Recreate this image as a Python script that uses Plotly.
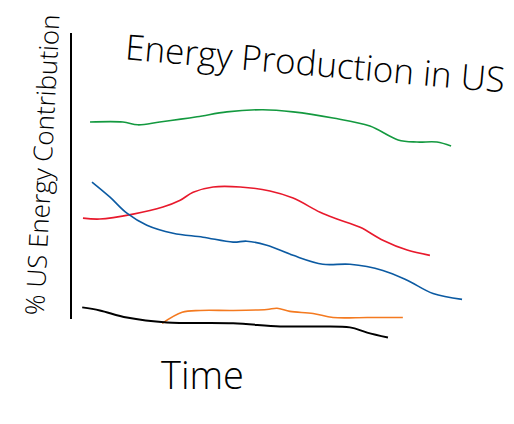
import plotly.graph_objects as go

# values (time 0-100, share 0-100)
green_t = [4.6, 13.0, 16.8, 22.4, 31.9, 39.5, 48.7, 56.4, 66.6, 76.0, 83.2, 88.0, 93.1, 96.7]
green_v = [65.1, 65.1, 64.2, 65.1, 66.8, 68.4, 69.1, 68.4, 66.4, 63.8, 59.3, 58.6, 58.6, 57.3]

red_t = [2.8, 7.1, 15.6, 23.2, 27.6, 30.9, 36.0, 42.9, 50.5, 56.4, 63.3, 67.6, 73.5, 79.3, 85.5, 91.3]
red_v = [33.9, 33.6, 35.2, 37.5, 39.7, 42.3, 44.0, 44.0, 42.7, 40.4, 35.8, 33.6, 30.9, 26.7, 23.5, 21.8]

blue_t = [5.1, 9.7, 14.0, 19.1, 25.8, 33.4, 41.1, 44.6, 49.7, 56.4, 64.0, 70.9, 79.3, 85.5, 92.1, 99.5]
blue_v = [45.6, 40.7, 35.5, 31.6, 29.0, 27.7, 26.1, 26.4, 25.1, 21.8, 18.9, 18.9, 16.9, 13.7, 9.4, 7.5]

orange_t = [23.0, 28.1, 32.7, 41.1, 49.7, 52.3, 55.6, 61.5, 66.6, 75.3, 84.4]
orange_v = [-0.3, 3.3, 3.9, 3.9, 4.2, 4.6, 3.6, 2.9, 1.6, 1.6, 1.6]

# the hand-drawn time axis
axis_t = [2.6, 7.1, 14.0, 24.2, 41.1, 53.1, 62.5, 70.9, 75.3, 80.6]
axis_v = [4.9, 3.9, 1.6, 0.0, -0.3, -1.3, -1.3, -1.6, -3.3, -4.9]

series = [
    ("green", green_t, green_v, "#13993f"),
    ("red", red_t, red_v, "#e8192c"),
    ("blue", blue_t, blue_v, "#0b5aa2"),
    ("orange", orange_t, orange_v, "#f47a20"),
    ("axis", axis_t, axis_v, "#000000"),
]

fig = go.Figure()
for name, t, v, col in series:
    fig.add_trace(go.Scatter(
        x=t, y=v, mode="lines", name=name,
        line=dict(color=col, width=2 if name == "axis" else 1.6, shape="spline"),
    ))

# empty trace so the short vertical axis stroke gets drawn
fig.add_trace(go.Scatter(x=[], y=[], yaxis="y2", hoverinfo="skip"))

hand = dict(family="Open Sans", color="black", weight=300)
bare = dict(showgrid=False, zeroline=False, showticklabels=False)

fig.update_layout(
    width=514, height=424,
    margin=dict(l=64, r=58, t=22, b=88),
    paper_bgcolor="white", plot_bgcolor="rgba(0,0,0,0)",
    showlegend=False,
    xaxis=dict(range=[0, 100], showline=False, **bare),
    yaxis=dict(range=[-7, 95], showline=False, **bare),
    yaxis2=dict(domain=[0.08, 0.99], anchor="x", range=[0, 1],
                showline=True, linecolor="black", linewidth=2, **bare),
    annotations=[
        dict(text="Energy Production in US", xref="paper", yref="paper",
             x=0.622, y=0.898, xanchor="center", yanchor="middle",
             showarrow=False, textangle=5,
             font=dict(size=35, **hand)),
        dict(text="Time", xref="paper", yref="paper",
             x=0.332, y=-0.094, xanchor="center", yanchor="middle",
             showarrow=False,
             font=dict(size=38, **hand)),
        dict(text="% US Energy Contribution", xref="paper", yref="paper",
             x=-0.0765, y=0.569, xanchor="center", yanchor="middle",
             showarrow=False, textangle=-87,
             font=dict(size=26, **hand)),
    ],
)

fig.write_html("out.html")
